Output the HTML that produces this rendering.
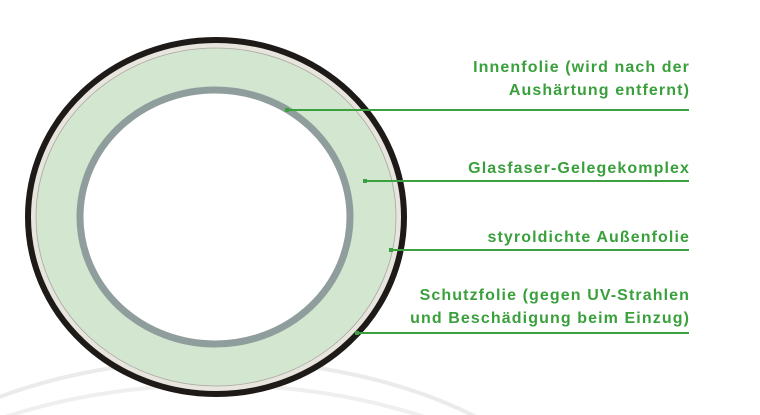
<!DOCTYPE html>
<html><head><meta charset="utf-8"><style>
html,body{margin:0;padding:0;background:#fff;}
body{width:760px;height:415px;overflow:hidden;position:relative;}
.t{position:absolute;right:70px;font-family:"Liberation Sans",sans-serif;font-weight:bold;font-size:16px;color:#3aa03c;letter-spacing:1.1px;text-align:right;line-height:23px;white-space:nowrap;}
</style></head><body>
<svg width="760" height="415" style="position:absolute;left:0;top:0">
<ellipse cx="215" cy="595" rx="400" ry="235" fill="none" stroke="#ebebeb" stroke-width="4"/>
<ellipse cx="215" cy="625" rx="420" ry="240" fill="none" stroke="#efefef" stroke-width="4"/>
<ellipse cx="216" cy="217" rx="188" ry="177" fill="#e8e4de" stroke="#1e1a18" stroke-width="6"/>
<ellipse cx="216" cy="217" rx="180" ry="169" fill="#d3e6d0" stroke="#a8a8a0" stroke-width="0.8"/>
<ellipse cx="215" cy="217" rx="135" ry="127" fill="#fff" stroke="#8f9e9c" stroke-width="7"/>
<g stroke="#3aa040" stroke-width="2">
<line x1="287" y1="110" x2="689" y2="110"/>
<line x1="365" y1="181" x2="689" y2="181"/>
<line x1="391" y1="250" x2="689" y2="250"/>
<line x1="357" y1="333" x2="689" y2="333"/>
</g>
<g fill="#3aa040">
<rect x="285" y="108" width="4" height="4"/>
<rect x="363" y="179" width="4" height="4"/>
<rect x="389" y="248" width="4" height="4"/>
<rect x="355" y="331" width="4" height="4"/>
</g>
</svg>
<div class="t" style="top:56px">Innenfolie (wird nach der<br>Aushärtung entfernt)</div>
<div class="t" style="top:157px">Glasfaser-Gelegekomplex</div>
<div class="t" style="top:226px">styroldichte Außenfolie</div>
<div class="t" style="top:284px">Schutzfolie (gegen UV-Strahlen<br>und Beschädigung beim Einzug)</div>
</body></html>
